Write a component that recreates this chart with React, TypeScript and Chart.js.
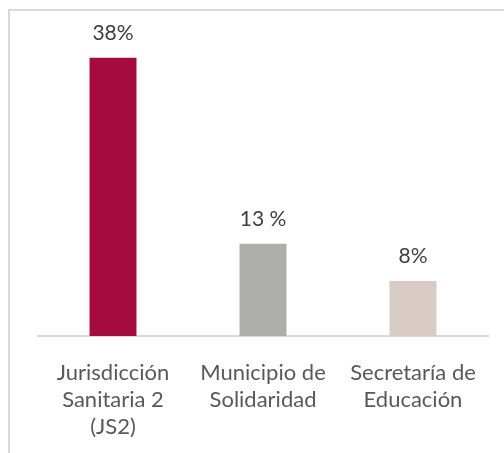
import React, { useEffect, useRef } from "react";
import { Chart, registerables } from "chart.js";

Chart.register(...registerables);

const categories: string[][] = [
  ["Jurisdicción", "Sanitaria 2", "(JS2)"],
  ["Municipio de", "Solidaridad"],
  ["Secretaría de", "Educación"],
];
const values: number[] = [38, 12.6, 7.5];
const valueLabels: string[] = ["38%", "13 %", "8%"];
const barColors: string[] = ["#A50B3E", "#ADADAB", "#D8CBC3"];

const FONT = "Lato, 'Open Sans', sans-serif";

export default function App() {
  const ref = useRef<HTMLCanvasElement | null>(null);

  useEffect(() => {
    if (!ref.current) return;
    const framePlugin = {
      id: "frame",
      beforeDraw(chart: any) {
        const ctx = chart.ctx;
        ctx.save();
        ctx.fillStyle = "#ffffff";
        ctx.fillRect(0, 0, chart.width, chart.height);
        ctx.strokeStyle = "#d9d9d9";
        ctx.lineWidth = 2;
        ctx.beginPath();
        ctx.moveTo(9, 9);
        ctx.lineTo(9, chart.height);
        ctx.moveTo(8, 10);
        ctx.lineTo(chart.width, 10);
        ctx.stroke();
        ctx.restore();
      },
    };
    const labelPlugin = {
      id: "valueLabels",
      afterDatasetsDraw(chart: any) {
        const ctx = chart.ctx;
        const meta = chart.getDatasetMeta(0);
        ctx.save();
        ctx.fillStyle = "#404040";
        ctx.font = `21px ${FONT}`;
        ctx.textAlign = "center";
        ctx.textBaseline = "alphabetic";
        meta.data.forEach((bar: any, i: number) => {
          ctx.fillText(valueLabels[i], bar.x, bar.y - 18);
        });
        ctx.restore();
      },
    };
    const chart = new Chart(ref.current, {
      type: "bar",
      data: {
        labels: categories,
        datasets: [
          {
            data: values,
            backgroundColor: barColors,
            barPercentage: 0.313,
            categoryPercentage: 1,
          },
        ],
      },
      options: {
        animation: false,
        responsive: false,
        maintainAspectRatio: false,
        layout: { padding: { left: 38, right: 16, top: 43, bottom: 0 } },
        plugins: { legend: { display: false }, tooltip: { enabled: false } },
        scales: {
          x: {
            grid: { display: false },
            border: { display: true, color: "#d9d9d9", width: 2 },
            ticks: {
              color: "#595959",
              font: { family: FONT, size: 22, lineHeight: 1.24 },
              padding: 15,
              maxRotation: 0,
              autoSkip: false,
            },
            afterFit: (scale: any) => {
              scale.height = 117;
            },
          },
          y: {
            display: false,
            min: 0,
            max: 40,
          },
        },
      },
      plugins: [framePlugin, labelPlugin],
    });
    return () => chart.destroy();
  }, []);

  return (
    <div style={{ position: "fixed", left: 0, top: 0, width: 504, height: 453, background: "#fff" }}>
      <canvas ref={ref} width={504} height={453} style={{ display: "block", width: 504, height: 453 }} />
    </div>
  );
}
